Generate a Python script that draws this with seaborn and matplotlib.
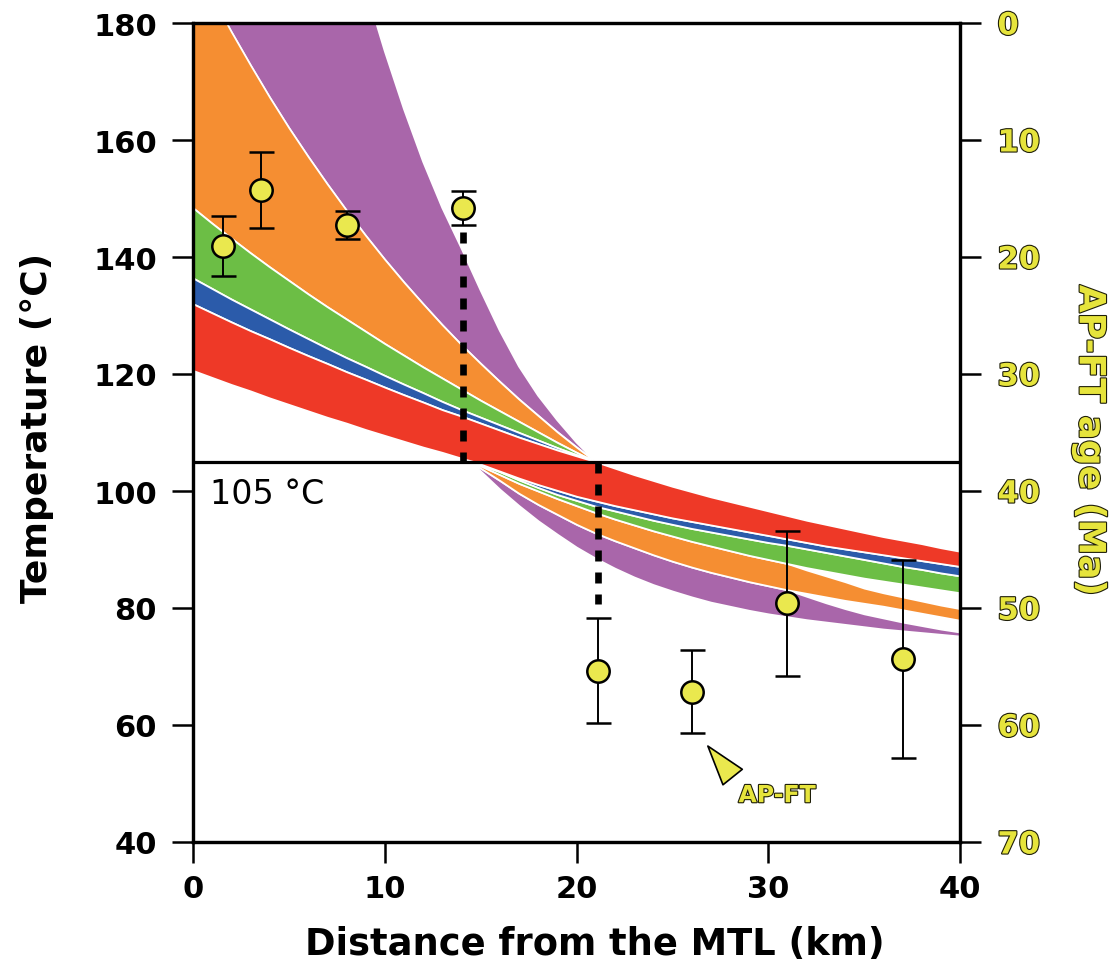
import matplotlib
matplotlib.use("Agg")
import matplotlib.pyplot as plt
import matplotlib.patheffects as pe
from matplotlib.patches import Rectangle
import numpy as np
import pandas as pd
import seaborn as sns

# ---------------------------------------------------------------
# Model temperature bands above the 105 °C line (distance 0-21 km)
# ---------------------------------------------------------------
x_upper = list(range(0, 22))
purple_upper_top = [366.0, 338.0, 312.0, 288.0, 266.0, 246.0, 228.0, 212.0, 198.0, 186.0, 175.2,
                    165.3, 156.3, 148.4, 141.5, 134.3, 127.4, 121.3, 116.3, 112.1, 108.3, 105.0]
purple_upper_bottom = [190.8, 184.5, 178.5, 172.8, 167.3, 162.1, 157.2, 152.5, 148.0, 143.7, 139.6,
                       135.7, 132.0, 128.4, 125.0, 121.8, 118.7, 115.7, 112.9, 110.1, 107.5, 105.0]
orange_upper_bottom = [148.4, 145.75, 143.2, 140.7, 138.3, 136.0, 133.7, 131.5, 129.4, 127.3, 125.2,
                       123.2, 121.2, 119.3, 117.4, 115.5, 113.7, 111.9, 110.1, 108.3, 106.6, 105.0]
green_upper_bottom = [136.4, 134.6, 132.8, 131.1, 129.4, 127.7, 126.05, 124.4, 122.8, 121.3, 119.75,
                      118.25, 116.8, 115.3, 113.9, 112.6, 111.3, 110.0, 108.7, 107.4, 106.2, 105.0]
blue_upper_bottom = [132.0, 130.45, 128.9, 127.4, 126.0, 124.55, 123.15, 121.8, 120.4, 119.1, 117.75,
                     116.45, 115.2, 113.9, 112.8, 111.6, 110.4, 109.2, 108.1, 107.0, 106.0, 105.0]
red_upper_bottom = [120.6, 119.4, 118.2, 117.1, 115.9, 114.8, 113.7, 112.6, 111.6, 110.5, 109.5,
                    108.5, 107.5, 106.6, 105.6, 104.7, 103.8, 102.9, 102.0, 101.2, 100.4, 99.6]

# ---------------------------------------------------------------
# Model temperature bands below the 105 °C line (distance 14.5-40 km)
# ---------------------------------------------------------------
x_lower = [14.5] + list(range(15, 41))
purple_lower_bottom = [105.0, 103.4, 100.3, 97.5, 94.9, 92.6, 90.4, 88.5, 86.8, 85.3, 84.0, 82.9, 81.9,
                       81.0, 80.3, 79.6, 79.0, 78.5, 78.0, 77.6, 77.2, 76.8, 76.4, 76.1, 75.8, 75.5, 75.2]
purple_lower_top = [105.0, 103.9, 101.8, 99.6, 97.7, 96.0, 94.3, 92.8, 91.5, 90.3, 89.1, 88.0, 87.0,
                    86.1, 85.3, 84.5, 83.8, 83.1, 82.0, 80.9, 79.9, 79.0, 78.3, 77.6, 77.0, 76.4, 75.9]
orange_lower_bottom = [105.0, 103.9, 101.8, 99.6, 97.7, 96.0, 94.3, 92.8, 91.5, 90.3, 89.1, 88.0, 87.0,
                       86.1, 85.3, 84.5, 83.8, 83.1, 82.5, 81.9, 81.3, 80.8, 80.3, 79.7, 79.1, 78.5, 77.9]
orange_lower_top = [105.0, 104.3, 102.8, 101.3, 100.0, 98.7, 97.5, 96.3, 95.2, 94.2, 93.2, 92.3, 91.4,
                    90.6, 89.8, 89.0, 88.3, 87.6, 86.5, 85.5, 84.5, 83.4, 82.6, 81.9, 81.2, 80.5, 79.9]
green_lower_bottom = [105.0, 104.3, 102.8, 101.3, 100.0, 98.7, 97.5, 96.3, 95.2, 94.2, 93.2, 92.3, 91.4,
                      90.6, 89.8, 89.0, 88.3, 87.6, 86.9, 86.3, 85.7, 85.1, 84.6, 84.1, 83.6, 83.1, 82.6]
green_lower_top = [105.0, 104.5, 103.3, 101.9, 100.6, 99.4, 98.4, 97.4, 96.6, 95.8, 95.0, 94.3, 93.6,
                   93.0, 92.4, 91.8, 91.2, 90.7, 90.1, 89.5, 88.9, 88.3, 87.7, 87.1, 86.6, 86.0, 85.5]
blue_lower_top = [105.0, 104.6, 103.4, 102.2, 101.1, 100.1, 99.1, 98.3, 97.5, 96.8, 96.1, 95.4, 94.8,
                  94.2, 93.6, 93.0, 92.4, 91.8, 91.2, 90.6, 90.1, 89.6, 89.1, 88.6, 88.1, 87.6, 87.1]
red_lower_top = [112.4, 111.8, 110.6, 109.4, 108.3, 107.2, 106.1, 105.0, 103.9, 102.8, 101.8, 100.8, 99.9,
                 99.0, 98.2, 97.4, 96.6, 95.8, 95.0, 94.3, 93.6, 92.9, 92.2, 91.6, 91.0, 90.3, 89.7]

# ---------------------------------------------------------------
# Apatite fission-track ages
# ---------------------------------------------------------------
ft_distance = [1.55, 3.55, 8.05, 14.1, 21.1, 26.0, 31.0, 37.05]
ft_age = [19.05, 14.3, 17.25, 15.8, 55.35, 57.15, 49.6, 54.35]
ft_error = [2.55, 3.25, 1.2, 1.45, 4.5, 3.55, 6.2, 8.45]

# 105 °C crossings marked with dashed verticals
crossing_x = [14.1, 21.1]
crossing_from = [144.2, 105.0]
crossing_to = [105.0, 80.6]
closure_temp = 105

temp_ticks = [40, 60, 80, 100, 120, 140, 160, 180]
age_ticks = [0, 10, 20, 30, 40, 50, 60, 70]
dist_ticks = [0, 10, 20, 30, 40]

PURPLE = "#A966AA"
ORANGE = "#F58E32"
GREEN = "#6CBE45"
BLUE = "#2B5BAA"
RED = "#EE3927"
YELLOW = "#EAE84E"
TXT_YELLOW = "#E6E43C"

sns.set_theme(style="white", rc={"text.color": "black", "axes.labelcolor": "black",
                                 "xtick.color": "black", "ytick.color": "black"})
plt.rcParams["font.family"] = ["DejaVu Sans"]

fig = plt.figure(figsize=(11.15, 9.7), dpi=100)
ax = fig.add_axes([193 / 1115, 1 - 843 / 970, (960 - 193) / 1115, (843 - 24) / 970])

T_MIN, T_MAX, D_MAX = 40, 180, 40
ax.set_xlim(0, D_MAX)
ax.set_ylim(T_MIN, T_MAX)

upper = pd.DataFrame({"x": x_upper, "purple_top": purple_upper_top, "purple_bottom": purple_upper_bottom,
                      "orange_bottom": orange_upper_bottom, "green_bottom": green_upper_bottom,
                      "blue_bottom": blue_upper_bottom, "red_bottom": red_upper_bottom})
lower = pd.DataFrame({"x": x_lower, "purple_bottom": purple_lower_bottom, "purple_top": purple_lower_top,
                      "orange_bottom": orange_lower_bottom, "orange_top": orange_lower_top,
                      "green_bottom": green_lower_bottom, "green_top": green_lower_top,
                      "blue_top": blue_lower_top, "red_top": red_lower_top})

upper_bands = [
    ("purple_bottom", "purple_top", PURPLE),
    ("orange_bottom", "purple_bottom", ORANGE),
    ("green_bottom", "orange_bottom", GREEN),
    ("blue_bottom", "green_bottom", BLUE),
    ("red_bottom", "blue_bottom", RED),
]
lower_bands = [
    ("purple_bottom", "purple_top", PURPLE),
    ("orange_bottom", "orange_top", ORANGE),
    ("green_bottom", "green_top", GREEN),
    ("green_top", "blue_top", BLUE),
    ("blue_top", "red_top", RED),
]

# each family is shown only on its own side of the 105 °C line
clip_above = Rectangle((0, closure_temp), D_MAX, T_MAX - closure_temp, transform=ax.transData)
clip_below = Rectangle((0, T_MIN), D_MAX, closure_temp - T_MIN, transform=ax.transData)

for lo, hi, col in upper_bands:
    band = ax.fill_between(upper["x"], upper[lo], upper[hi], facecolor=col,
                           edgecolor="white", linewidth=1.3, zorder=2)
    band.set_clip_path(clip_above)

for lo, hi, col in lower_bands:
    band = ax.fill_between(lower["x"], lower[lo], lower[hi], facecolor=col,
                           edgecolor="white", linewidth=1.3, zorder=2)
    band.set_clip_path(clip_below)

ax.axhline(closure_temp, color="black", linewidth=2.3, zorder=4)
ax.text(0.9, 98.0, "105 °C", fontsize=24, color="black", ha="left", va="baseline", zorder=5)

for cx, top, bot in zip(crossing_x, crossing_from, crossing_to):
    ax.plot([cx, cx], [top, bot], color="black", linewidth=4.8,
            linestyle=(0, (1.65, 1.65)), dash_capstyle="butt", zorder=5)

# Age axis on the right: 0 Ma at the top, 70 Ma at the bottom
ax2 = ax.twinx()
ax2.set_ylim(70, 0)
ax2.errorbar(ft_distance, ft_age, yerr=ft_error, fmt="none", ecolor="black",
             elinewidth=1.4, capsize=9, capthick=1.8, zorder=6)
ft = pd.DataFrame({"distance": ft_distance, "age": ft_age})
sns.scatterplot(data=ft, x="distance", y="age", ax=ax2, s=260, color=YELLOW,
                edgecolor="black", linewidth=1.8, zorder=7, legend=False)
ax2.set_xlim(0, D_MAX)
ax2.set_xlabel("")

outline = [pe.withStroke(linewidth=1.6, foreground="#1e1e08")]

ax2.annotate("AP-FT", xy=(26.85, 61.8), xytext=(28.45, 66.0),
             fontsize=17, fontweight="bold", color=TXT_YELLOW,
             family=["Liberation Sans Narrow", "DejaVu Sans"],
             ha="left", va="center", path_effects=outline,
             arrowprops=dict(arrowstyle="wedge,tail_width=1.05,shrink_factor=0.5",
                             facecolor=YELLOW, edgecolor="black", linewidth=1.2,
                             relpos=(0.0, 0.95), shrinkA=3, shrinkB=0))

# Axes, ticks and labels
for a in (ax, ax2):
    for side in ("left", "right", "top", "bottom"):
        a.spines[side].set_visible(True)
        a.spines[side].set_color("black")
        a.spines[side].set_linewidth(2.3)

ax.set_xticks(dist_ticks)
ax.set_yticks(temp_ticks)
ax2.set_yticks(age_ticks)
ax.tick_params(axis="y", direction="out", length=15, width=1.8, color="black",
               labelsize=22, pad=11, left=True, right=False, labelcolor="black")
ax.tick_params(axis="x", direction="out", length=15, width=1.8, color="black",
               labelsize=22, pad=8, bottom=True, top=False, labelcolor="black")
ax2.tick_params(axis="y", direction="out", length=15, width=1.8, color="black",
                labelsize=22, pad=12, right=True, left=False, labelcolor=TXT_YELLOW)
for lab in ax.get_xticklabels() + ax.get_yticklabels():
    lab.set_fontweight("bold")
for lab in ax2.get_yticklabels():
    lab.set_fontweight("bold")
    lab.set_path_effects(outline)

ax.set_xlabel("Distance from the MTL (km)", fontsize=26.5, fontweight="bold", labelpad=16)
ax.xaxis.label.set_x(0.524)
ax.set_ylabel("Temperature (°C)", fontsize=26, fontweight="bold", labelpad=28)
ax.yaxis.label.set_y(0.507)
ax2.set_ylabel("AP-FT age (Ma)", fontsize=26, fontweight="bold", color=TXT_YELLOW,
               rotation=270, labelpad=48, path_effects=outline)
ax2.yaxis.label.set_y(0.49)

fig.savefig("out.png", dpi=100)
